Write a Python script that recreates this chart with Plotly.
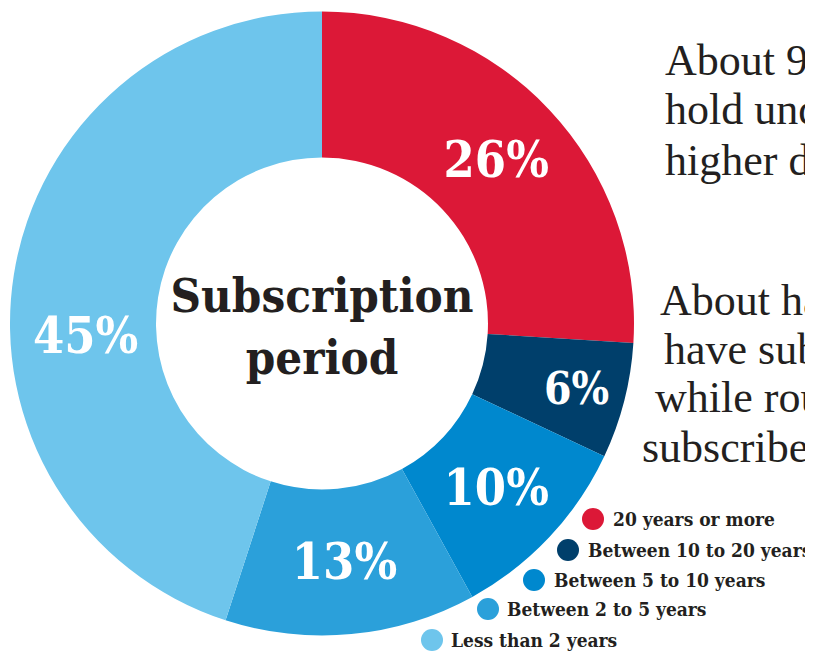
import math
import plotly.graph_objects as go

# ---- data ----
categories = ["20 years or more", "Between 10 to 20 years", "Between 5 to 10 years",
              "Between 2 to 5 years", "Less than 2 years"]
shares = [26, 6, 10, 13, 45]
colors = ["#DC1837", "#003F6B", "#0088CE", "#2BA0DA", "#6EC5EC"]
label_sizes = [50, 44, 50, 50, 50]
center_title = "Subscription<br>period"
side_text_1 = ["About 90% of subscribers", "hold undergraduate or", "higher degrees"]
side_text_2 = ["About half of subscribers", "have subscribed for years,", "while roughly a quarter",
               "subscribed for 20 years"]

OFF = 8  # page body margin
W, H = 805, 645
cx, cy, R = 322, 323.5, 312   # screen pixels

def px(x):
    return (x - OFF) / W

def py(y):
    return 1 - (y - OFF) / H

slab = "DejaVu Serif Condensed, DejaVu Serif"

# last (largest) slice label is drawn separately, nudged below its mid-angle as in the original
pie_text = [f"{v}%" for v in shares[:-1]] + [""]

fig = go.Figure()
fig.add_trace(go.Pie(
    labels=categories,
    values=shares,
    text=pie_text,
    sort=False,
    direction="clockwise",
    rotation=0,
    hole=0.532,
    marker=dict(colors=colors, line=dict(width=0)),
    texttemplate="%{text}",
    textposition="inside",
    insidetextorientation="horizontal",
    textfont=dict(family=slab, size=label_sizes, color="white", weight="bold"),
    domain=dict(x=[px(cx - R), px(cx + R)], y=[py(cy + R), py(cy - R)]),
    showlegend=False,
    hoverinfo="label+percent",
    title=dict(text=center_title, position="middle center",
               font=dict(family=slab, size=47, color="#231F20", weight="bold")),
))

annotations = []
# label of the largest slice
ang = math.radians(267)
r_lab = 237
annotations.append(dict(text=f"{shares[-1]}%", x=px(cx + r_lab * math.sin(ang)),
                        y=py(cy - r_lab * math.cos(ang)), xref="paper", yref="paper",
                        xanchor="center", yanchor="middle", showarrow=False,
                        font=dict(family=slab, size=label_sizes[-1], color="white", weight="bold")))

serif = "Liberation Serif"
FS = 44
for txt, (x, base) in zip(side_text_1, [(663, 75), (663, 125), (663, 175)]):
    annotations.append(dict(text=txt, x=px(x), y=py(base - 15), xref="paper", yref="paper",
                            xanchor="left", yanchor="middle", showarrow=False,
                            font=dict(family=serif, size=FS, color="#231F20")))
for txt, (x, base) in zip(side_text_2, [(658, 315), (662, 364), (653, 412), (640, 462)]):
    annotations.append(dict(text=txt, x=px(x), y=py(base - 15), xref="paper", yref="paper",
                            xanchor="left", yanchor="middle", showarrow=False,
                            font=dict(family=serif, size=FS, color="#231F20")))

# custom staggered legend
legend_pos = [(593, 519, 611), (568, 550, 586), (534, 580, 552), (488, 609, 505), (432, 640, 449)]
shapes = []
for cat, col, (mx, my, tx) in zip(categories, colors, legend_pos):
    r = 11
    shapes.append(dict(type="circle", xref="paper", yref="paper",
                       x0=px(mx - r), x1=px(mx + r), y0=py(my + r), y1=py(my - r),
                       fillcolor=col, line=dict(width=0)))
    annotations.append(dict(text=cat, x=px(tx), y=py(my), xref="paper", yref="paper",
                            xanchor="left", yanchor="middle", showarrow=False,
                            font=dict(family=slab, size=19, color="#231F20", weight="bold")))

fig.update_layout(
    width=W, height=H,
    margin=dict(l=0, r=0, t=0, b=0),
    paper_bgcolor="white",
    plot_bgcolor="white",
    annotations=annotations,
    shapes=shapes,
)

fig.write_html("out.html")
